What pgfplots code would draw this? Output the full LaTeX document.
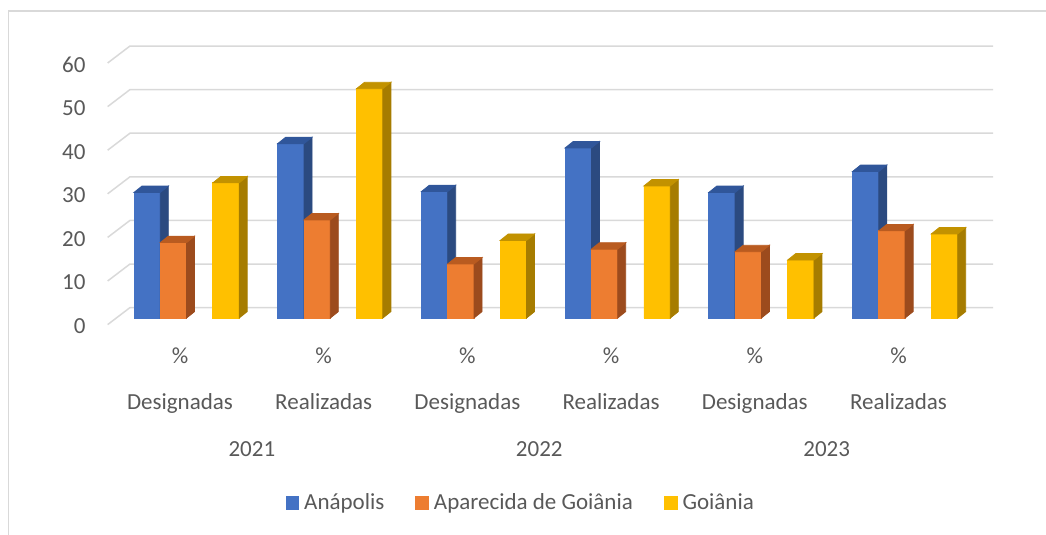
\documentclass[border=0pt]{standalone}
\usepackage{pgfplots}
\pgfplotsset{compat=1.18}
\usepackage{pgfplotstable}
\usepackage{fontspec}
\setmainfont{Carlito}

\definecolor{cA}{HTML}{4472C4}
\definecolor{cAs}{HTML}{2B4A80}
\definecolor{cAt}{HTML}{30569A}
\definecolor{cB}{HTML}{ED7D31}
\definecolor{cBs}{HTML}{9C4B1D}
\definecolor{cBt}{HTML}{B95B20}
\definecolor{cC}{HTML}{FFC000}
\definecolor{cCs}{HTML}{A67C00}
\definecolor{cCt}{HTML}{C29200}
\definecolor{gridc}{HTML}{D9D9D9}
\definecolor{textc}{HTML}{595959}

\pgfdeclareplotmark{nothing}{}

\pgfplotstableread{
x anap apar goia
0 28.8 17.3 31.0
1 40.0 22.5 52.6
2 29.0 12.4 17.8
3 39.0 15.8 30.3
4 28.8 15.2 13.3
5 33.6 20.0 19.3
}\data

\pgfplotsset{
  faces/.style n args={4}{
    forget plot, only marks, scatter, mark=nothing,
    visualization depends on={\thisrow{#4} \as \rawy},
    scatter/@pre marker code/.code={%
      \pgfmathsetlengthmacro\hh{\rawy*2.18bp}%
      \fill[#1] (-13.15bp,-\hh) rectangle (0pt,0pt);
      \fill[#2] (0pt,0pt) -- (4bp,3.2bp) -- ([yshift=-\hh]4bp,3.2bp) -- (0pt,-\hh) -- cycle;
      \fill[#3] (0pt,0pt) -- (-13.15bp,0pt) -- (-9.15bp,3.2bp) -- (4bp,3.2bp) -- cycle;
    },
    scatter/@post marker code/.code={},
  },
  front/.style={
    ybar, bar width=0.183, draw=none, fill=#1,
    legend image code/.code={\fill[#1] (0bp,-3.4bp) rectangle (6.8bp,3.4bp);},
  },
}

\newcommand\lfont{\fontsize{11.5bp}{13bp}\selectfont}

\begin{document}
\begin{tikzpicture}
\path[use as bounding box] (-93.3bp,-108.5bp) rectangle (429.7bp,159bp);
\draw[gridc, line width=0.75bp] (-89.05bp,-120bp) -- (-89.05bp,153.5bp) -- (440bp,153.5bp);
\begin{axis}[
  at={(-35.925bp,0bp)}, anchor=south west,
  x=71.85bp, y=2.18bp,
  xmin=-0.5, xmax=5.5, ymin=0, ymax=60,
  clip=false,
  axis line style={draw=none},
  major tick length=0pt,
  tick style={draw=none},
  /pgf/number format/assume math mode=true,
  tick label style={font=\lfont, text=textc},
  ytick={0,10,...,60},
  yticklabel style={anchor=east, inner sep=0pt, xshift=-14.4bp, yshift=-4.1bp},
  xtick={0,1,2,3,4,5},
  xticklabels={\%,\%,\%,\%,\%,\%},
  xticklabel style={anchor=base, inner sep=0pt, xshift=-3.3bp, yshift=-22.5bp},
  extra x ticks={0,1,2,3,4,5,0.5,2.5,4.5},
  extra x tick labels={Designadas,Realizadas,Designadas,Realizadas,Designadas,Realizadas,\raisebox{-23.35bp}{2021},\raisebox{-23.35bp}{2022},\raisebox{-23.35bp}{2023}},
  extra x tick style={xticklabel style={yshift=-23.2bp}},
  legend columns=3,
  legend style={draw=none, fill=none, at={(0.4697,-0.707)}, anchor=center,
    font=\lfont, text=textc, nodes={inner sep=0pt},
    /tikz/every odd column/.append style={column sep=2.5bp},
    /tikz/every even column/.append style={column sep=15.5bp}},
]
\pgfplotsinvokeforeach{0,10,...,60}{
  \draw[gridc, line width=0.75bp] ([yshift=-3.3bp]axis cs:-0.5493,#1) -- ([yshift=5.2bp]axis cs:-0.394,#1) -- ([yshift=5.2bp]axis cs:5.612,#1);
}
\addplot[front=cA, bar shift=-0.2745] table[x=x, y=anap]{\data};
\addlegendentry{Anápolis}
\addplot[front=cB, bar shift=-0.0915] table[x=x, y=apar]{\data};
\addlegendentry{Aparecida de Goiânia}
\addplot[front=cC, bar shift=0.2745] table[x=x, y=goia]{\data};
\addlegendentry{Goiânia}
\addplot[faces={cA}{cAs}{cAt}{anap}] table[x expr=\thisrow{x}-0.183, y=anap]{\data};
\addplot[faces={cB}{cBs}{cBt}{apar}] table[x expr=\thisrow{x}, y=apar]{\data};
\addplot[faces={cC}{cCs}{cCt}{goia}] table[x expr=\thisrow{x}+0.366, y=goia]{\data};
\end{axis}
\end{tikzpicture}
\end{document}
